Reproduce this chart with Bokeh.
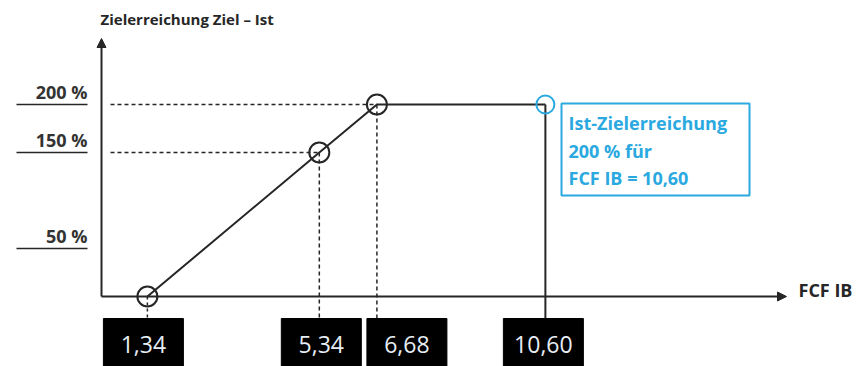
from bokeh.plotting import figure
from bokeh.models import Range1d, Arrow, NormalHead
from bokeh.core.properties import value
from bokeh.embed import file_html
from bokeh.resources import INLINE

# ---- data ----
fcf = [1.34, 5.34, 6.68, 10.60]
pct = [0, 150, 200, 200]
fcf_labels = ["1,34", "5,34", "6,68", "10,60"]
y_ticks = [200, 150, 50]
y_tick_labels = ["200 %", "150 %", "50 %"]
title_text = "Zielerreichung Ziel – Ist"
x_name = "FCF IB"
note_lines = ["Ist-Zielerreichung", "200 % für", "FCF IB = 10,60"]

# ---- layout helpers (pixel <-> data) ----
W, H = 862, 366
XA, XB = 89.3, 42.98      # px = XA + XB * value
Y0, YB = 296.0, 0.96      # py = Y0 - YB * pct
def X(px):
    return (px - XA) / XB
def Y(py):
    return (Y0 - py) / YB

BLUE = "#2aa9e0"
INK = "#262626"
FONT = "Open Sans"

p = figure(width=W, height=H, output_backend="svg", toolbar_location=None,
           x_range=Range1d(X(0), X(W)), y_range=Range1d(Y(H), Y(0)),
           x_axis_type=None, y_axis_type=None, min_border=0)
p.outline_line_color = None
p.grid.visible = False
p.background_fill_color = "white"
p.border_fill_color = "white"

# axes with arrows
head = lambda: NormalHead(size=9, fill_color=INK, line_color=INK)
p.add_layout(Arrow(end=head(), x_start=X(101), y_start=Y(296), x_end=X(101), y_end=Y(38),
                   line_color=INK, line_width=2))
p.add_layout(Arrow(end=head(), x_start=X(101), y_start=Y(296), x_end=X(786), y_end=Y(296),
                   line_color=INK, line_width=2))

# y tick labels with underline
for t, lab in zip(y_ticks, y_tick_labels):
    p.line([X(16), X(87)], [t, t], line_color=INK, line_width=1.5)
p.text(x=[X(87)] * len(y_ticks), y=y_ticks, text=y_tick_labels, y_offset=-1,
       text_align="right", text_baseline="bottom", text_color="#333333",
       text_font=value(FONT), text_font_size="18px", text_font_style="bold")

# dashed guides
for xv, yv in zip(fcf[1:3], pct[1:3]):
    p.line([X(110), xv], [yv, yv], line_color=INK, line_width=1.5, line_dash="4 3")
    p.line([xv, xv], [yv, Y(318)], line_color=INK, line_width=1.5, line_dash="4 3")
p.line([fcf[0], fcf[0]], [pct[0], Y(318)], line_color=INK, line_width=1.5, line_dash="3 3")
# solid drop at actual value
p.line([fcf[3], fcf[3]], [pct[3], Y(318)], line_color=INK, line_width=2)

# main curve
p.line(fcf, pct, line_color=INK, line_width=2)
p.scatter(fcf[:3], pct[:3], size=20, fill_color=None, line_color=INK, line_width=2)
p.scatter(fcf[3:], pct[3:], size=18, fill_color=None, line_color=BLUE, line_width=2)

# x value boxes
nudge = [-4, 2, 30, -2]
cx = [v + n / XB for v, n in zip(fcf, nudge)]
p.quad(left=[c - 40 / XB for c in cx], right=[c + 40 / XB for c in cx],
       top=[Y(318)] * 4, bottom=[Y(372)] * 4, fill_color="black", line_color="black")
p.text(x=cx, y=[Y(344)] * 4, text=fcf_labels, text_align="center", text_baseline="middle",
       text_color="#e6edf4", text_font=value(FONT), text_font_size="23px")

# note box
p.quad(left=[X(561)], right=[X(749)], top=[Y(103)], bottom=[Y(195)],
       fill_color=None, line_color=BLUE, line_width=2)
p.text(x=[X(568)] * 3, y=[Y(122), Y(150), Y(177)], text=note_lines,
       text_align="left", text_baseline="middle", text_color=BLUE,
       text_font=value(FONT), text_font_size="18px", text_font_style="bold")

# titles
p.text(x=[X(100)], y=[Y(18)], text=[title_text], text_align="left", text_baseline="middle",
       text_color=INK, text_font=value(FONT), text_font_size="15px", text_font_style="bold")
p.text(x=[X(798)], y=[Y(289)], text=[x_name], text_align="left", text_baseline="middle",
       text_color=INK, text_font=value(FONT), text_font_size="18px", text_font_style="bold")

open("out.html", "w").write(file_html(p, INLINE))
